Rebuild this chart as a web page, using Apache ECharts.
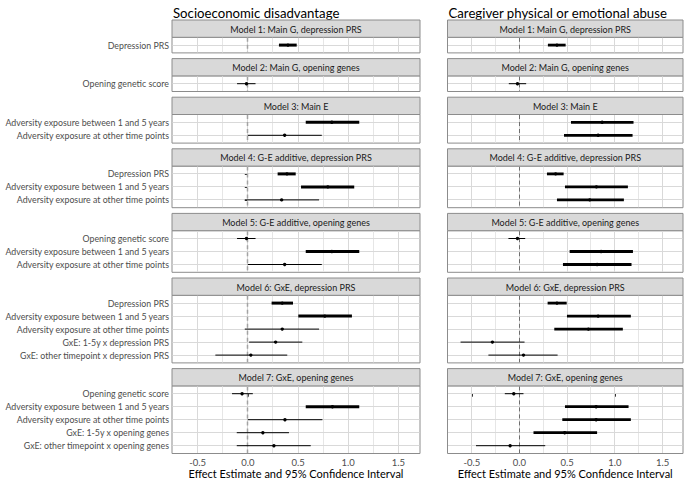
<!DOCTYPE html>
<html><head><meta charset="utf-8">
<script src="https://cdn.jsdelivr.net/npm/echarts@6/dist/echarts.min.js"></script>
<style>html,body{margin:0;padding:0;background:#fff}#c{width:685px;height:480px}</style>
</head><body><div id="c"></div>
<script>
// ---------------- data ----------------
const columnTitles = ['Socioeconomic disadvantage', 'Caregiver physical or emotional abuse'];
const axisTitle = 'Effect Estimate and 95% Confidence Interval';
const modelTitles = [
  'Model 1: Main G, depression PRS',
  'Model 2: Main G, opening genes',
  'Model 3: Main E',
  'Model 4: G-E additive, depression PRS',
  'Model 5: G-E additive, opening genes',
  'Model 6: GxE, depression PRS',
  'Model 7: GxE, opening genes'
];
const modelTerms = [
  ['Depression PRS'],
  ['Opening genetic score'],
  ['Adversity exposure between 1 and 5 years', 'Adversity exposure at other time points'],
  ['Depression PRS', 'Adversity exposure between 1 and 5 years', 'Adversity exposure at other time points'],
  ['Opening genetic score', 'Adversity exposure between 1 and 5 years', 'Adversity exposure at other time points'],
  ['Depression PRS', 'Adversity exposure between 1 and 5 years', 'Adversity exposure at other time points', 'GxE: 1-5y x depression PRS', 'GxE: other timepoint x depression PRS'],
  ['Opening genetic score', 'Adversity exposure between 1 and 5 years', 'Adversity exposure at other time points', 'GxE: 1-5y x opening genes', 'GxE: other timepoint x opening genes']
];
// Socioeconomic disadvantage
const sesEst = [[0.40], [-0.013], [0.837, 0.367], [0.39, 0.797, 0.337], [-0.013, 0.837, 0.367], [0.343, 0.767, 0.343, 0.277, 0.03], [-0.057, 0.843, 0.37, 0.15, 0.26]];
const sesLo  = [[0.31], [-0.107], [0.577, 0.0], [0.297, 0.53, -0.03], [-0.107, 0.577, 0.0], [0.237, 0.503, -0.03, 0.013, -0.323], [-0.157, 0.577, 0.0, -0.11, -0.11]];
const sesHi  = [[0.487], [0.077], [1.11, 0.737], [0.477, 1.06, 0.71], [0.077, 1.11, 0.737], [0.45, 1.037, 0.71, 0.543, 0.393], [0.05, 1.11, 0.743, 0.41, 0.627]];
const sesSig = [[1], [0], [1, 0], [1, 1, 0], [0, 1, 0], [1, 1, 0, 0, 0], [0, 1, 0, 0, 0]];
// Caregiver physical or emotional abuse
const abuseEst = [[0.393], [-0.021], [0.867, 0.825], [0.379, 0.807, 0.737], [-0.021, 0.856, 0.814], [0.393, 0.825, 0.723, -0.284, 0.042], [-0.06, 0.804, 0.804, 0.474, -0.098]];
const abuseLo  = [[0.298], [-0.112], [0.54, 0.467], [0.288, 0.477, 0.393], [-0.116, 0.526, 0.456], [0.295, 0.498, 0.365, -0.618, -0.326], [-0.154, 0.477, 0.449, 0.147, -0.456]];
const abuseHi  = [[0.484], [0.07], [1.196, 1.186], [0.463, 1.137, 1.095], [0.06, 1.19, 1.175], [0.495, 1.168, 1.084, 0.053, 0.4], [0.042, 1.144, 1.168, 0.814, 0.27]];
const abuseSig = [[1], [0], [1, 1], [1, 1, 1], [0, 1, 1], [1, 1, 1, 0, 0], [0, 1, 1, 1, 0]];
const xTicks = [-0.5, 0, 0.5, 1.0, 1.5];
const xMinor = [-0.25, 0.25, 0.75, 1.25];
const xMin = -0.755, xMax = 1.715;

// ---------------- layout / style ----------------
const FONT = 'Lato';
const cols = [
  { left: 172, width: 248, est: sesEst, lo: sesLo, hi: sesHi, sig: sesSig, zeroColor: '#a3a3a3', zeroW: 1.5, thick: 3, labels: true },
  { left: 447.5, width: 235.5, est: abuseEst, lo: abuseLo, hi: abuseHi, sig: abuseSig, zeroColor: '#6e6e6e', zeroW: 1, thick: 2.8, labels: false }
];
const top0 = 20, stripH = 17.3, unit = 13, gap = 5.7;
const panels = [];
let yy = top0;
modelTerms.forEach(terms => {
  const sTop = yy, bTop = yy + stripH, bH = (terms.length + 0.2) * unit;
  panels.push({ sTop, bTop, bH });
  yy = bTop + bH + gap;
});
const crisp = v => Math.round(v - 0.5) + 0.5;
const lineStyles = [
  { stroke: '#e6e6e6', lineWidth: 1 },          // minor vertical
  { stroke: '#d9d9d9', lineWidth: 1 },          // major vertical / row lines
  null                                          // zero line (per column)
];

const grid = [], xAxis = [], yAxis = [], series = [], graphic = [];
let gi = 0;
cols.forEach((col, c) => {
  graphic.push({ type: 'text', x: col.left + 1, y: 13, style: { text: columnTitles[c], fontFamily: FONT, fontSize: 13.2, fill: '#000', verticalAlign: 'middle' } });
  modelTerms.forEach((terms, m) => {
    const p = panels[m];
    const n = terms.length;
    const yMin = -0.6, yMax = n - 0.4;
    const bottom = m === modelTerms.length - 1;
    grid.push({ left: col.left, top: p.bTop, width: col.width, height: p.bH, show: true, borderColor: '#8c8c8c', borderWidth: 1, backgroundColor: 'transparent', containLabel: false, outerBoundsMode: 'none' });
    xAxis.push({
      gridIndex: gi, type: 'value', min: xMin, max: xMax,
      axisLine: { show: false }, splitLine: { show: false },
      axisTick: bottom ? { show: true, customValues: xTicks, length: 3, lineStyle: { color: '#333', width: 1 } } : { show: false },
      axisLabel: bottom ? { show: true, customValues: xTicks, formatter: v => v.toFixed(1), color: '#4d4d4d', fontSize: 9.5, fontFamily: FONT, margin: 4 } : { show: false },
      name: bottom ? axisTitle : '', nameLocation: 'middle', nameGap: 14,
      nameTextStyle: { color: '#000', fontSize: 11, fontFamily: FONT, verticalAlign: 'top' }
    });
    const idx = terms.map((t, i) => i);
    yAxis.push({
      gridIndex: gi, type: 'value', inverse: true, min: yMin, max: yMax,
      axisLine: { show: false }, splitLine: { show: false },
      axisTick: col.labels ? { show: true, customValues: idx, length: 3, lineStyle: { color: '#333', width: 1 } } : { show: false },
      axisLabel: col.labels ? { show: true, customValues: idx, formatter: v => terms[Math.round(v)], color: '#4d4d4d', fontSize: 8.8, fontFamily: FONT, margin: 3 } : { show: false }
    });
    // strip
    graphic.push({ type: 'rect', shape: { x: col.left, y: p.sTop, width: col.width, height: stripH }, style: { fill: '#d9d9d9', stroke: '#8c8c8c', lineWidth: 1 } });
    graphic.push({ type: 'text', x: col.left + col.width / 2, y: p.sTop + stripH / 2 + 0.5, style: { text: modelTitles[m], fontFamily: FONT, fontSize: 9, fill: '#1a1a1a', align: 'center', verticalAlign: 'middle' } });
    // background grid lines + zero line, one data item per line
    const bg = [];
    xMinor.forEach(v => bg.push([v, yMin, v, yMax, 0]));
    xTicks.forEach(v => bg.push([v, yMin, v, yMax, 1]));
    idx.forEach(r => bg.push([xMin, r, xMax, r, 1]));
    bg.push([0, yMin, 0, yMax, 2]);
    series.push({
      type: 'custom', xAxisIndex: gi, yAxisIndex: gi, silent: true, z: 1, clip: false,
      encode: { x: [0, 2], y: [1, 3] },
      data: bg,
      renderItem: (params, api) => {
        const a = api.coord([api.value(0), api.value(1)]);
        const b = api.coord([api.value(2), api.value(3)]);
        const k = api.value(4);
        const vertical = api.value(0) === api.value(2);
        let x1 = a[0], x2 = b[0], y1 = a[1], y2 = b[1];
        if (vertical) { x1 = x2 = crisp(x1); y1 += 0.5; y2 -= 0.5; } else { y1 = y2 = crisp(y1); x1 += 0.5; x2 -= 0.5; }
        const st = k === 2 ? { stroke: col.zeroColor, lineWidth: col.zeroW, lineDash: [4, 3] } : lineStyles[k];
        return { type: 'line', shape: { x1, y1, x2, y2 }, style: st };
      }
    });
    // estimates
    const data = terms.map((t, i) => [col.lo[m][i], col.hi[m][i], col.est[m][i], i, col.sig[m][i]]);
    series.push({
      type: 'custom', xAxisIndex: gi, yAxisIndex: gi, z: 3, clip: false,
      encode: { x: [0, 1, 2], y: 3 },
      data,
      renderItem: (params, api) => {
        const a = api.coord([api.value(0), api.value(3)]);
        const b = api.coord([api.value(1), api.value(3)]);
        const e = api.coord([api.value(2), api.value(3)]);
        const w = api.value(4) ? col.thick : 1;
        return { type: 'group', children: [
          { type: 'line', shape: { x1: a[0], y1: a[1], x2: b[0], y2: b[1] }, style: { stroke: '#000', lineWidth: w } },
          { type: 'circle', shape: { cx: e[0], cy: e[1], r: 1.7 }, style: { fill: '#000' } }
        ] };
      }
    });
    gi++;
  });
});

const chart = echarts.init(document.getElementById('c'), null, { renderer: 'svg' });
chart.setOption({ animation: false, backgroundColor: '#fff', grid, xAxis, yAxis, series, graphic });
</script>
</body></html>
